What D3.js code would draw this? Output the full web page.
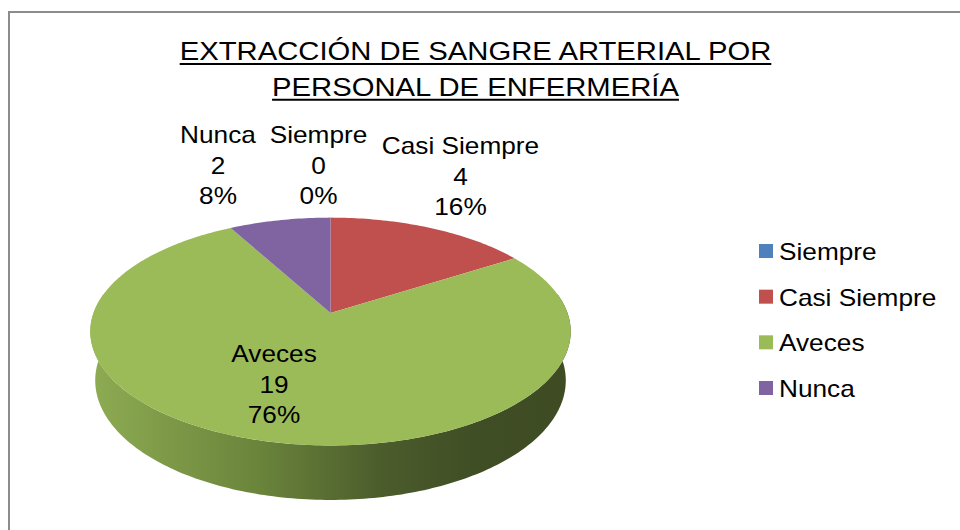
<!DOCTYPE html>
<html>
<head>
<meta charset="utf-8">
<script src="https://cdn.jsdelivr.net/npm/d3@7"></script>
<style>
    body { margin: 0; background: #fff; }
    svg { display: block; }
    text { font-family: "Liberation Sans", Arial, sans-serif; fill: #000; }
</style>
</head>
<body>
<svg id="chart" width="960" height="530"></svg>
<script>
// data
const categories = ["Siempre", "Casi Siempre", "Aveces", "Nunca"];
const values = [0, 4, 19, 2];
const colors = ["#4F81BD", "#C0504D", "#9BBB59", "#8064A2"];
const titleLines = ["EXTRACCIÓN DE SANGRE ARTERIAL POR", "PERSONAL DE ENFERMERÍA"];

// layout
const W = 960, H = 530;
const cx = 330.5, cy = 313;      // apex of the pie on screen
const S = 237;                   // pie radius in px
const tilt = 27.9 * Math.PI / 180;
const camD = 5.43;               // camera distance (radius units)
const depthH = 0.236;            // pie thickness (radius units)
const stretch = 1.14;            // text is a bit wider than normal Arial

// label anchors (center x, first baseline)
const labelPos = {
    "Nunca": [218, 143],
    "Siempre": [318.5, 143],
    "Casi Siempre": [460.5, 154],
    "Aveces": [274, 362]
};
const labelStep = 30.5;

const svg = d3.select("#chart");

svg.append("rect")
    .attr("x", 9).attr("y", 12)
    .attr("width", 1000).attr("height", 600)
    .attr("fill", "none")
    .attr("stroke", "#8c8c8c")
    .attr("stroke-width", 2);

// title
titleLines.forEach((t, i) => {
    const y = 60 + i * 35.7;
    const txt = svg.append("text")
        .attr("text-anchor", "middle")
        .attr("font-size", 26.5)
        .attr("transform", `translate(475.5,${y}) scale(1.104,1)`)
        .text(t);
    const w = txt.node().getComputedTextLength() * 1.104;
    svg.append("line")
        .attr("x1", 475.5 - w / 2).attr("x2", 475.5 + w / 2)
        .attr("y1", y + 4).attr("y2", y + 4)
        .attr("stroke", "#000").attr("stroke-width", 2);
});

// 3d projection: theta clockwise from 12 o'clock, r in radius units, y height
const sinT = Math.sin(tilt), cosT = Math.cos(tilt);
function project(theta, r, y) {
    const x3 = r * Math.sin(theta);
    const z3 = -r * Math.cos(theta);
    const ys = z3 * sinT - y * cosT;
    const depth = z3 * cosT + y * sinT;
    const f = camD / (camD - depth);
    return [cx + S * x3 * f, cy + S * ys * f];
}

function arcPoints(a0, a1, y) {
    const n = Math.max(2, Math.ceil(Math.abs(a1 - a0) / (Math.PI / 180)));
    const pts = [];
    for (let i = 0; i <= n; i++) {
        pts.push(project(a0 + (a1 - a0) * i / n, 1, y));
    }
    return pts;
}

const pie = d3.pie().sort(null).value(d => d.value);
const data = categories.map((c, i) => ({name: c, value: values[i], color: colors[i]}));
const arcs = pie(data);
const total = d3.sum(values);
const line = d3.line();

// side gradient
const defs = svg.append("defs");
const grad = defs.append("linearGradient")
    .attr("id", "sideGrad")
    .attr("gradientUnits", "userSpaceOnUse")
    .attr("x1", cx - S).attr("x2", cx + S)
    .attr("y1", 0).attr("y2", 0);
[[0, "#8dab52"], [0.35, "#6a843b"], [0.6, "#4c5d2c"], [0.8, "#404e25"], [1, "#3e4b23"]]
    .forEach(s => grad.append("stop").attr("offset", s[0]).attr("stop-color", s[1]));

// walls (front part only)
const frontA = 80 * Math.PI / 180, frontB = 280 * Math.PI / 180;
arcs.forEach(a => {
    const a0 = Math.max(a.startAngle, frontA);
    const a1 = Math.min(a.endAngle, frontB);
    if (a1 <= a0) return;
    const pts = arcPoints(a0, a1, 0).concat(arcPoints(a1, a0, -depthH));
    svg.append("path")
        .attr("d", line(pts) + "Z")
        .attr("fill", a.data.name === "Aveces" ? "url(#sideGrad)" : d3.color(a.data.color).darker(1.2));
});

// top faces
arcs.forEach(a => {
    if (a.endAngle - a.startAngle <= 0) return;
    const pts = [project(0, 0, 0)].concat(arcPoints(a.startAngle, a.endAngle, 0));
    svg.append("path")
        .attr("d", line(pts) + "Z")
        .attr("fill", a.data.color);
});

// data labels
const pct = d3.format(".0%");
arcs.forEach(a => {
    const [x, y] = labelPos[a.data.name];
    const lines = [a.data.name, String(a.data.value), pct(a.data.value / total)];
    lines.forEach((t, i) => {
        svg.append("text")
            .attr("text-anchor", "middle")
            .attr("font-size", 23)
            .attr("transform", `translate(${x},${y + i * labelStep}) scale(${stretch},1)`)
            .text(t);
    });
});

// legend
const legendY = d3.scalePoint().domain(categories).range([251, 388]);
const legend = svg.append("g");
data.forEach(d => {
    const y = legendY(d.name);
    legend.append("rect")
        .attr("x", 759).attr("y", y - 7)
        .attr("width", 14).attr("height", 14)
        .attr("fill", d.color);
    legend.append("text")
        .attr("font-size", 23)
        .attr("transform", `translate(779,${y + 9}) scale(${stretch},1)`)
        .text(d.name);
});
</script>
</body>
</html>
